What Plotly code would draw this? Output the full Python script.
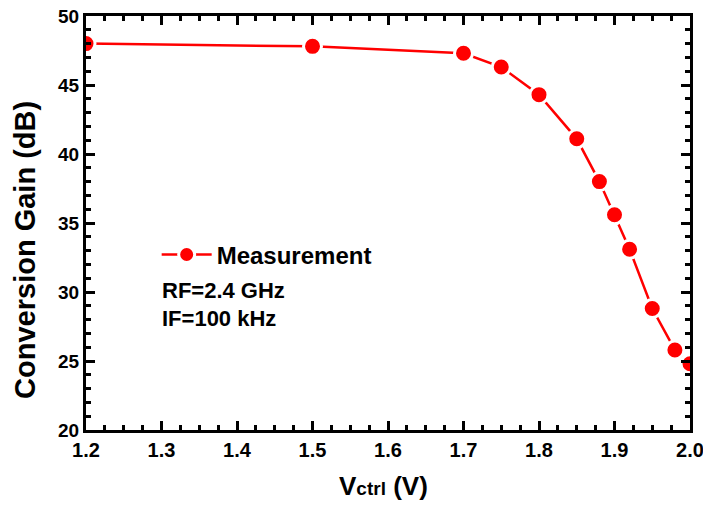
import plotly.graph_objects as go

vctrl = [1.2, 1.5, 1.7, 1.75, 1.8, 1.85, 1.88, 1.9, 1.92, 1.95, 1.98, 2.0]
gain = [48.0, 47.8, 47.3, 46.3, 44.3, 41.1, 38.0, 35.6, 33.1, 28.8, 25.8, 24.8]
x_ticks = [1.2, 1.3, 1.4, 1.5, 1.6, 1.7, 1.8, 1.9, 2.0]
x_labels = ["1.2", "1.3", "1.4", "1.5", "1.6", "1.7", "1.8", "1.9", "2.0"]
y_ticks = [20, 25, 30, 35, 40, 45, 50]
notes = ["RF=2.4 GHz", "IF=100 kHz"]

FONT = "Arial, Liberation Sans, sans-serif"
X_RANGE = [1.2, 2.0]
Y_RANGE = [20, 50]

fig = go.Figure()
fig.add_trace(go.Scatter(
    x=vctrl, y=gain, mode="lines+markers", name="Measurement",
    line=dict(color="#ff0000", width=2.5),
    marker=dict(color="#ff0000", size=18, symbol="circle",
                line=dict(color="white", width=3)),
))

axis_common = dict(
    showline=True, linecolor="black", linewidth=3, mirror="allticks",
    ticks="inside", ticklen=9, tickwidth=3, tickcolor="black",
    showgrid=False, zeroline=False, automargin=False,
    ticklabeloverflow="allow",
)

fig.update_layout(
    xaxis=dict(range=X_RANGE, tickmode="array", tickvals=x_ticks, ticktext=x_labels,
               tickfont=dict(family=FONT, size=20, color="black", weight="bold"),
               minor=dict(ticks="inside", ticklen=5, tickwidth=2.5, tickcolor="black",
                          tickmode="linear", tick0=1.2, dtick=0.025, showgrid=False),
               **axis_common),
    yaxis=dict(range=Y_RANGE, tickmode="array", tickvals=y_ticks,
               tickfont=dict(family=FONT, size=19, color="black", weight="bold"),
               minor=dict(ticks="inside", ticklen=5, tickwidth=2.5, tickcolor="black",
                          tickmode="linear", tick0=20, dtick=1, showgrid=False),
               **axis_common),
)

# axis titles
fig.add_annotation(
    x=0.492, y=-0.135, xref="paper", yref="paper", showarrow=False,
    text='V<span style="font-size:19px">ctrl</span> (V)',
    xanchor="center", yanchor="middle",
    font=dict(family=FONT, size=26, color="black", weight="bold"),
)
fig.add_annotation(
    x=-0.101, y=0.435, xref="paper", yref="paper", showarrow=False,
    text="Conversion Gain (dB)", textangle=-90,
    xanchor="center", yanchor="middle",
    font=dict(family=FONT, size=29, color="black", weight="bold"),
)

for i, t in enumerate(notes):
    fig.add_annotation(
        x=0.123, y=0.338 - i * 0.0675, xref="paper", yref="paper",
        text=t, showarrow=False, xanchor="left", yanchor="middle",
        font=dict(family=FONT, size=22, color="black", weight="bold"),
    )

fig.update_layout(
    width=703, height=506,
    margin=dict(l=86, r=13, t=16, b=76),
    paper_bgcolor="white", plot_bgcolor="white",
    showlegend=True,
    legend=dict(x=0.117, y=0.423, xanchor="left", yanchor="middle",
                bgcolor="rgba(0,0,0,0)", itemwidth=50,
                font=dict(family=FONT, size=24, color="black", weight="bold")),
)

fig.write_html("out.html")
